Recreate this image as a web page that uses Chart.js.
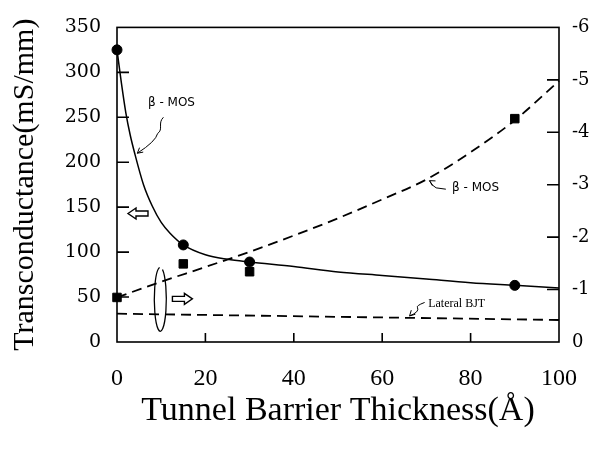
<!DOCTYPE html>
<html>
<head>
<meta charset="utf-8">
<script src="https://cdn.jsdelivr.net/npm/chart.js@4.4.1/dist/chart.umd.min.js"></script>
<style>
  html, body { margin: 0; padding: 0; background: #fff; }
  #wrap { width: 604px; height: 454px; position: relative; }
</style>
</head>
<body>
<div id="wrap"><canvas id="gm-chart"></canvas></div>
<script>
// Transconductance vs tunnel barrier thickness

// beta-MOS, solid curve (left axis, mS/mm)
const mosCurveX = [0, 1, 2, 3, 4, 6, 8, 10, 12, 15, 20, 25, 30, 40, 50, 60, 70, 80, 90, 100];
const mosCurveY = [325, 288, 255, 230, 210, 175, 151, 133, 121, 108, 97, 92, 89, 84, 78, 74, 70, 66, 63, 60];
const mosPointX = [0, 15, 30, 90];
const mosPointY = [325, 108, 89, 63];

// beta-MOS, dashed curve (right axis)
const dashCurveX = [0, 10, 20, 30, 40, 50, 60, 70, 80, 90, 100];
const dashCurveY = [-0.85, -1.15, -1.43, -1.72, -2.03, -2.36, -2.72, -3.1, -3.62, -4.23, -4.98];
const dashPointX = [0, 15, 30, 90];
const dashPointY = [-0.85, -1.49, -1.34, -4.26];

// Lateral BJT (right axis)
const bjtX = [0, 100];
const bjtY = [-0.54, -0.42];

const xTicks = [0, 20, 40, 60, 80, 100];
const leftTicks = [0, 50, 100, 150, 200, 250, 300, 350];
const rightTicks = [0, -1, -2, -3, -4, -5, -6];

const pts = (xs, ys) => xs.map((x, i) => ({ x, y: ys[i] }));

// frame, inward ticks and the hand-drawn notes
const decorations = {
  id: 'decorations',
  afterDatasetsDraw(chart) {
    const { ctx, chartArea: a, scales } = chart;
    const sx = scales.x, sy = scales.y, sr = scales.y2;
    const P = (x, y) => [sx.getPixelForValue(x), sy.getPixelForValue(y)];

    ctx.save();
    ctx.strokeStyle = '#000';
    ctx.lineWidth = 1.6;
    ctx.strokeRect(a.left, a.top, a.right - a.left, a.bottom - a.top);

    ctx.beginPath();
    leftTicks.slice(1, -1).forEach(v => {
      const y = sy.getPixelForValue(v);
      ctx.moveTo(a.left, y); ctx.lineTo(a.left + 12, y);
    });
    rightTicks.slice(1, -1).forEach(v => {
      const y = sr.getPixelForValue(v);
      ctx.moveTo(a.right, y); ctx.lineTo(a.right - 12, y);
    });
    xTicks.slice(1, -1).forEach(v => {
      const x = sx.getPixelForValue(v);
      ctx.moveTo(x, a.bottom); ctx.lineTo(x, a.bottom - 9);
    });
    ctx.stroke();

    // labels
    ctx.fillStyle = '#000';
    ctx.textBaseline = 'middle';
    ctx.font = '12px "DejaVu Sans"';
    let p = P(7, 266);
    ctx.fillText('β - MOS', p[0], p[1]);
    p = P(75.8, 172);
    ctx.fillText('β - MOS', p[0], p[1]);
    ctx.font = '12px "Liberation Serif"';
    p = P(70.4, 42.5);
    ctx.fillText('Lateral BJT', p[0], p[1]);

    // curly pointer lines
    ctx.lineWidth = 1;
    const head = (tip, from) => {
      const ang = Math.atan2(tip[1] - from[1], tip[0] - from[0]);
      ctx.beginPath();
      ctx.moveTo(tip[0] - 6 * Math.cos(ang - 0.5), tip[1] - 6 * Math.sin(ang - 0.5));
      ctx.lineTo(tip[0], tip[1]);
      ctx.lineTo(tip[0] - 6 * Math.cos(ang + 0.5), tip[1] - 6 * Math.sin(ang + 0.5));
      ctx.stroke();
    };
    let s = P(10.5, 250), m = P(9.2, 232), e = P(4.6, 210);
    ctx.beginPath();
    ctx.moveTo(s[0], s[1]);
    ctx.bezierCurveTo(s[0] - 6, s[1] + 6, m[0] + 6, m[1] - 4, m[0], m[1]);
    ctx.quadraticCurveTo(m[0] - 2, m[1] + 8, e[0], e[1]);
    ctx.stroke();
    head(e, [e[0] + 6, e[1] - 5]);

    s = P(74.4, 170); m = P(72.2, 171.5); e = P(70.7, 179.5);
    ctx.beginPath();
    ctx.moveTo(s[0], s[1]);
    ctx.lineTo(m[0], m[1]);
    ctx.quadraticCurveTo(m[0] - 4, m[1] - 2, e[0], e[1]);
    ctx.stroke();
    head(e, [e[0] + 5, e[1] + 3]);

    s = P(69.6, 44); m = P(68.0, 38); e = P(66.2, 29);
    ctx.beginPath();
    ctx.moveTo(s[0], s[1]);
    ctx.quadraticCurveTo(m[0] - 2, m[1] - 2, m[0], m[1]);
    ctx.quadraticCurveTo(m[0] + 2, m[1] + 4, e[0], e[1]);
    ctx.stroke();
    head(e, [e[0] + 4, e[1] - 4]);

    // hollow block arrows
    const block = (c, dir) => {
      const L = 20, H = 11, T = 5, hl = 8;
      ctx.save();
      ctx.translate(c[0], c[1]);
      ctx.scale(dir, 1);
      ctx.beginPath();
      ctx.moveTo(L / 2, 0);
      ctx.lineTo(L / 2 - hl, -H / 2);
      ctx.lineTo(L / 2 - hl, -T / 2);
      ctx.lineTo(-L / 2, -T / 2);
      ctx.lineTo(-L / 2, T / 2);
      ctx.lineTo(L / 2 - hl, T / 2);
      ctx.lineTo(L / 2 - hl, H / 2);
      ctx.closePath();
      ctx.fillStyle = '#fff';
      ctx.fill();
      ctx.lineWidth = 1.4;
      ctx.stroke();
      ctx.restore();
    };
    block(P(4.75, 143), -1);
    block(P(14.8, 48), 1);

    // loop grouping the right-axis curves
    const c = P(9.8, 47.5);
    ctx.lineWidth = 1.3;
    ctx.beginPath();
    ctx.ellipse(c[0], c[1], 6, 32, 0, -1.2, 4.6);
    ctx.stroke();
    ctx.restore();
  }
};

new Chart(document.getElementById('gm-chart'), {
  type: 'scatter',
  data: {
    datasets: [
      {
        data: pts(mosCurveX, mosCurveY),
        showLine: true,
        borderColor: '#000',
        borderWidth: 1.5,
        pointRadius: 0,
        cubicInterpolationMode: 'monotone',
        clip: false,
        yAxisID: 'y'
      },
      {
        data: pts(mosPointX, mosPointY),
        pointStyle: 'circle',
        pointRadius: 5,
        backgroundColor: '#000',
        borderColor: '#000',
        clip: false,
        yAxisID: 'y'
      },
      {
        data: pts(dashCurveX, dashCurveY),
        showLine: true,
        borderColor: '#000',
        borderWidth: 1.8,
        borderDash: [10, 6],
        pointRadius: 0,
        cubicInterpolationMode: 'monotone',
        clip: false,
        yAxisID: 'y2'
      },
      {
        data: pts(dashPointX, dashPointY),
        pointStyle: 'rect',
        pointRadius: 6,
        backgroundColor: '#000',
        borderColor: '#000',
        clip: false,
        yAxisID: 'y2'
      },
      {
        data: pts(bjtX, bjtY),
        showLine: true,
        borderColor: '#000',
        borderWidth: 1.8,
        borderDash: [10, 6],
        pointRadius: 0,
        yAxisID: 'y2'
      }
    ]
  },
  options: {
    responsive: true,
    maintainAspectRatio: false,
    animation: false,
    layout: { padding: { top: 19, left: 0, right: 0, bottom: 0 } },
    plugins: { legend: { display: false }, tooltip: { enabled: false } },
    scales: {
      x: {
        type: 'linear',
        min: 0,
        max: 100,
        afterFit: s => { s.height = 112; },
        afterBuildTicks: s => { s.ticks = xTicks.map(v => ({ value: v })); },
        grid: { display: false, drawTicks: false },
        border: { display: false },
        ticks: { color: '#000', padding: 22, maxRotation: 0, font: { family: '"Liberation Serif"', size: 24 } },
        title: {
          display: true,
          text: 'Tunnel Barrier Thickness(Å)',
          color: '#000',
          font: { family: '"Liberation Serif"', size: 34 },
          padding: { top: 0, bottom: 23 }
        }
      },
      y: {
        position: 'left',
        min: 0,
        max: 350,
        afterFit: s => { s.width = 117; },
        afterBuildTicks: s => { s.ticks = leftTicks.map(v => ({ value: v })); },
        grid: { display: false, drawTicks: false },
        border: { display: false },
        ticks: { color: '#000', padding: 16, font: { family: '"DejaVu Serif"', size: 19 } },
        title: {
          display: true,
          text: 'Transconductance(mS/mm)',
          color: '#000',
          font: { family: '"Liberation Serif"', size: 30 },
          padding: { top: 7, bottom: 0 }
        }
      },
      y2: {
        position: 'right',
        min: -6,
        max: 0,
        reverse: true,
        afterFit: s => { s.width = 45; },
        afterBuildTicks: s => { s.ticks = rightTicks.map(v => ({ value: v })); },
        grid: { display: false, drawTicks: false },
        border: { display: false },
        ticks: { color: '#000', padding: 13, font: { family: '"DejaVu Serif"', size: 18 } }
      }
    }
  },
  plugins: [decorations]
});
</script>
</body>
</html>
